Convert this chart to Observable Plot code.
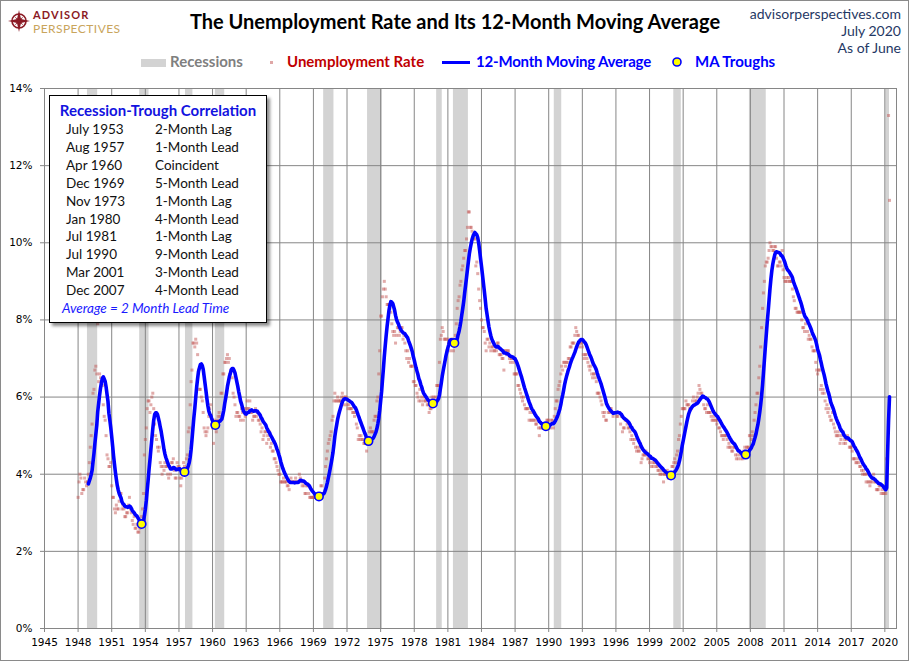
<!DOCTYPE html>
<html>
<head>
<meta charset="utf-8">
<script src="https://cdn.jsdelivr.net/npm/d3@7"></script>
<script src="https://cdn.jsdelivr.net/npm/@observablehq/plot@0.6"></script>
<style>
  body { margin: 0; background: #fff; }
  #wrap { position: relative; width: 910px; height: 661px; overflow: hidden; font-family: Lato, "Open Sans", sans-serif; background: #fff; }
  #chart { position: absolute; left: 0; top: 0; }
  #edge { position: absolute; left: 0; top: 0; width: 909px; height: 661px; box-sizing: border-box; border: 1px solid #8a8a8a; pointer-events: none; }
  .abs { position: absolute; white-space: nowrap; line-height: 1; }
  #title { left: 0; width: 910px; top: 11px; text-align: center; font-weight: 700; font-size: 20px; color: #000; }
  .site { right: 9px; text-align: right; font-size: 14px; color: #1f3864; }
  .leg { top: 54px; font-weight: 700; font-size: 15px; }
  #box { position: absolute; left: 49px; top: 95px; width: 218px; height: 228px; box-sizing: border-box; border: 1px solid #000; background: #fff; box-shadow: 3px 3px 3px rgba(0,0,0,0.45); }
  #box .abs { font-size: 13.5px; color: #111; }
  #box .boxtitle { left: 0; width: 216px; text-align: center; font-weight: 700; font-size: 15px; color: #1212e0; }
  #box .avg { font-style: italic; color: #1a1aff; }
</style>
</head>
<body>
<div id="wrap">
  <div id="chart"></div>
  <svg class="abs" style="left:7px;top:8px" width="126" height="28" viewBox="-12 -13 126 28">
    <circle r="7" fill="none" stroke="#8b1a24" stroke-width="1.6"></circle>
    <path d="M0,-11 L2,-2 L11,0 L2,2 L0,11 L-2,2 L-11,0 L-2,-2 Z" fill="#8b1a24"></path>
    <path d="M5,-5 L1,0 L5,5 L0,1 L-5,5 L-1,0 L-5,-5 L0,-1 Z" fill="#8b1a24"></path>
    <text x="14" y="-2.4" font-family="Lato, sans-serif" font-size="11" font-weight="700" fill="#8b1a24" letter-spacing="1.1">ADVISOR</text>
    <text x="14" y="11.9" font-family="Lato, sans-serif" font-size="12" fill="#c9a55c" letter-spacing="0.45">PERSPECTIVES</text>
  </svg>
  <div id="title" class="abs">The Unemployment Rate and Its 12-Month Moving Average</div>
  <div class="abs site" style="top:7px">advisorperspectives.com</div>
  <div class="abs site" style="top:24px">July 2020</div>
  <div class="abs site" style="top:41px">As of June</div>
  <div id="legend"></div>
  <div id="box"></div>
  <div id="edge"></div>
</div>
<script>
// Monthly civilian unemployment rate (%), seasonally adjusted, starting January 1948
const firstMonth = "1948-01-01";
const unemploymentRate = [
  3.4, 3.8, 4.0, 3.9, 3.5, 3.6, 3.6, 3.9, 3.8, 3.7, 3.8, 4.0,   // 1948
  4.3, 4.7, 5.0, 5.3, 6.1, 6.2, 6.7, 6.8, 6.6, 7.9, 6.4, 6.6,   // 1949
  6.5, 6.4, 6.3, 5.8, 5.5, 5.4, 5.0, 4.5, 4.4, 4.2, 4.2, 4.3,   // 1950
  3.7, 3.4, 3.4, 3.1, 3.0, 3.2, 3.1, 3.1, 3.3, 3.5, 3.5, 3.1,   // 1951
  3.2, 3.1, 2.9, 2.9, 3.0, 3.0, 3.2, 3.4, 3.1, 3.0, 2.8, 2.7,   // 1952
  2.9, 2.6, 2.6, 2.7, 2.5, 2.5, 2.6, 2.7, 2.9, 3.1, 3.5, 4.5,   // 1953
  4.9, 5.2, 5.7, 5.9, 5.9, 5.6, 5.8, 6.0, 6.1, 5.7, 5.3, 5.0,   // 1954
  4.9, 4.7, 4.6, 4.7, 4.3, 4.2, 4.0, 4.2, 4.1, 4.3, 4.2, 4.2,   // 1955
  4.0, 3.9, 4.2, 4.0, 4.3, 4.3, 4.4, 4.1, 3.9, 3.9, 4.3, 4.2,   // 1956
  4.2, 3.9, 3.7, 3.9, 4.1, 4.3, 4.2, 4.1, 4.4, 4.5, 5.1, 5.2,   // 1957
  5.8, 6.4, 6.7, 7.4, 7.4, 7.3, 7.5, 7.4, 7.1, 6.7, 6.2, 6.2,   // 1958
  6.0, 5.9, 5.6, 5.2, 5.1, 5.0, 5.1, 5.2, 5.5, 5.7, 5.8, 5.3,   // 1959
  5.2, 4.8, 5.4, 5.2, 5.1, 5.4, 5.5, 5.6, 5.5, 6.1, 6.1, 6.6,   // 1960
  6.6, 6.9, 6.9, 7.0, 7.1, 6.9, 7.0, 6.6, 6.7, 6.5, 6.1, 6.0,   // 1961
  5.8, 5.5, 5.6, 5.6, 5.5, 5.5, 5.4, 5.7, 5.6, 5.4, 5.7, 5.5,   // 1962
  5.7, 5.9, 5.7, 5.7, 5.9, 5.6, 5.6, 5.4, 5.5, 5.5, 5.7, 5.5,   // 1963
  5.6, 5.4, 5.4, 5.3, 5.1, 5.2, 4.9, 5.0, 5.1, 5.1, 4.8, 5.0,   // 1964
  4.9, 5.1, 4.7, 4.8, 4.6, 4.6, 4.4, 4.4, 4.3, 4.2, 4.1, 4.0,   // 1965
  4.0, 3.8, 3.8, 3.8, 3.9, 3.8, 3.8, 3.8, 3.7, 3.7, 3.6, 3.8,   // 1966
  3.9, 3.8, 3.8, 3.8, 3.8, 3.9, 3.8, 3.8, 3.8, 4.0, 3.9, 3.8,   // 1967
  3.7, 3.8, 3.7, 3.5, 3.5, 3.7, 3.7, 3.5, 3.4, 3.4, 3.4, 3.4,   // 1968
  3.4, 3.4, 3.4, 3.4, 3.4, 3.5, 3.5, 3.5, 3.7, 3.7, 3.5, 3.5,   // 1969
  3.9, 4.2, 4.4, 4.6, 4.8, 4.9, 5.0, 5.1, 5.4, 5.5, 5.9, 6.1,   // 1970
  5.9, 5.9, 6.0, 5.9, 5.9, 5.9, 6.0, 6.1, 6.0, 5.8, 6.0, 6.0,   // 1971
  5.8, 5.7, 5.8, 5.7, 5.7, 5.7, 5.6, 5.6, 5.5, 5.6, 5.3, 5.2,   // 1972
  4.9, 5.0, 4.9, 5.0, 4.9, 4.9, 4.8, 4.8, 4.8, 4.6, 4.8, 4.9,   // 1973
  5.1, 5.2, 5.1, 5.1, 5.1, 5.4, 5.5, 5.5, 5.9, 6.0, 6.6, 7.2,   // 1974
  8.1, 8.1, 8.6, 8.8, 9.0, 8.8, 8.6, 8.4, 8.4, 8.4, 8.3, 8.2,   // 1975
  7.9, 7.7, 7.6, 7.7, 7.4, 7.6, 7.8, 7.8, 7.6, 7.7, 7.8, 7.8,   // 1976
  7.5, 7.6, 7.4, 7.2, 7.0, 7.2, 6.9, 7.0, 6.8, 6.8, 6.8, 6.4,   // 1977
  6.4, 6.3, 6.3, 6.1, 6.0, 5.9, 6.2, 5.9, 6.0, 5.8, 5.9, 6.0,   // 1978
  5.9, 5.9, 5.8, 5.8, 5.6, 5.7, 5.7, 6.0, 5.9, 6.0, 5.9, 6.0,   // 1979
  6.3, 6.3, 6.3, 6.9, 7.5, 7.6, 7.8, 7.7, 7.5, 7.5, 7.5, 7.2,   // 1980
  7.5, 7.4, 7.4, 7.2, 7.5, 7.5, 7.2, 7.4, 7.6, 7.9, 8.3, 8.5,   // 1981
  8.6, 8.9, 9.0, 9.3, 9.4, 9.6, 9.8, 9.8, 10.1, 10.4, 10.8, 10.8, // 1982
  10.4, 10.4, 10.3, 10.2, 10.1, 10.1, 9.4, 9.5, 9.2, 8.8, 8.5, 8.3, // 1983
  8.0, 7.8, 7.8, 7.7, 7.4, 7.2, 7.5, 7.5, 7.3, 7.4, 7.2, 7.3,   // 1984
  7.3, 7.2, 7.2, 7.3, 7.2, 7.4, 7.4, 7.1, 7.1, 7.1, 7.0, 7.0,   // 1985
  6.7, 7.2, 7.2, 7.1, 7.2, 7.2, 7.0, 6.9, 7.0, 7.0, 6.9, 6.6,   // 1986
  6.6, 6.6, 6.6, 6.3, 6.3, 6.2, 6.1, 6.0, 5.9, 6.0, 5.8, 5.7,   // 1987
  5.7, 5.7, 5.7, 5.4, 5.6, 5.4, 5.4, 5.6, 5.4, 5.4, 5.3, 5.3,   // 1988
  5.4, 5.2, 5.0, 5.2, 5.2, 5.3, 5.2, 5.2, 5.3, 5.3, 5.4, 5.4,   // 1989
  5.4, 5.3, 5.2, 5.4, 5.4, 5.2, 5.5, 5.7, 5.9, 5.9, 6.2, 6.3,   // 1990
  6.4, 6.6, 6.8, 6.7, 6.9, 6.9, 6.8, 6.9, 6.9, 7.0, 7.0, 7.3,   // 1991
  7.3, 7.4, 7.4, 7.4, 7.6, 7.8, 7.7, 7.6, 7.6, 7.3, 7.4, 7.4,   // 1992
  7.3, 7.1, 7.0, 7.1, 7.1, 7.0, 6.9, 6.8, 6.7, 6.8, 6.6, 6.5,   // 1993
  6.6, 6.6, 6.5, 6.4, 6.1, 6.1, 6.1, 6.0, 5.9, 5.8, 5.6, 5.5,   // 1994
  5.6, 5.4, 5.4, 5.8, 5.6, 5.6, 5.7, 5.7, 5.6, 5.5, 5.6, 5.6,   // 1995
  5.6, 5.5, 5.5, 5.6, 5.6, 5.3, 5.5, 5.1, 5.2, 5.2, 5.4, 5.4,   // 1996
  5.3, 5.2, 5.2, 5.1, 4.9, 5.0, 4.9, 4.8, 4.9, 4.7, 4.6, 4.7,   // 1997
  4.6, 4.6, 4.7, 4.3, 4.4, 4.5, 4.5, 4.5, 4.6, 4.5, 4.4, 4.4,   // 1998
  4.3, 4.4, 4.2, 4.3, 4.2, 4.3, 4.3, 4.2, 4.2, 4.1, 4.1, 4.0,   // 1999
  4.0, 4.1, 4.0, 3.8, 4.0, 4.0, 4.0, 4.1, 3.9, 3.9, 3.9, 3.9,   // 2000
  4.2, 4.2, 4.3, 4.4, 4.3, 4.5, 4.6, 4.9, 5.0, 5.3, 5.5, 5.7,   // 2001
  5.7, 5.7, 5.7, 5.9, 5.8, 5.8, 5.8, 5.7, 5.7, 5.7, 5.9, 6.0,   // 2002
  5.8, 5.9, 5.9, 6.0, 6.1, 6.3, 6.2, 6.1, 6.1, 6.0, 5.8, 5.7,   // 2003
  5.7, 5.6, 5.8, 5.6, 5.6, 5.6, 5.5, 5.4, 5.4, 5.5, 5.4, 5.4,   // 2004
  5.3, 5.4, 5.2, 5.2, 5.1, 5.0, 5.0, 4.9, 5.0, 5.0, 5.0, 4.9,   // 2005
  4.7, 4.8, 4.7, 4.7, 4.6, 4.6, 4.7, 4.7, 4.5, 4.4, 4.5, 4.4,   // 2006
  4.6, 4.5, 4.4, 4.5, 4.4, 4.6, 4.7, 4.6, 4.7, 4.7, 4.7, 5.0,   // 2007
  5.0, 4.9, 5.1, 5.0, 5.4, 5.6, 5.8, 6.1, 6.1, 6.5, 6.8, 7.3,   // 2008
  7.8, 8.3, 8.7, 9.0, 9.4, 9.5, 9.5, 9.6, 9.8, 10.0, 9.9, 9.9,  // 2009
  9.8, 9.8, 9.9, 9.9, 9.6, 9.4, 9.4, 9.5, 9.5, 9.4, 9.8, 9.3,   // 2010
  9.1, 9.0, 9.0, 9.1, 9.0, 9.1, 9.0, 9.0, 9.0, 8.8, 8.6, 8.5,   // 2011
  8.3, 8.3, 8.2, 8.2, 8.2, 8.2, 8.2, 8.0, 7.8, 7.8, 7.7, 7.9,   // 2012
  8.0, 7.7, 7.5, 7.6, 7.5, 7.5, 7.3, 7.2, 7.2, 7.2, 6.9, 6.7,   // 2013
  6.6, 6.7, 6.7, 6.2, 6.3, 6.1, 6.2, 6.1, 5.9, 5.7, 5.8, 5.6,   // 2014
  5.7, 5.5, 5.4, 5.4, 5.6, 5.3, 5.2, 5.1, 5.0, 5.0, 5.1, 5.0,   // 2015
  4.8, 4.9, 5.0, 5.1, 4.8, 4.9, 4.8, 4.9, 5.0, 4.9, 4.7, 4.7,   // 2016
  4.7, 4.6, 4.4, 4.4, 4.4, 4.3, 4.3, 4.4, 4.3, 4.2, 4.2, 4.1,   // 2017
  4.0, 4.1, 4.0, 4.0, 3.8, 4.0, 3.8, 3.8, 3.7, 3.8, 3.8, 3.9,   // 2018
  4.0, 3.8, 3.8, 3.6, 3.6, 3.6, 3.7, 3.7, 3.5, 3.6, 3.5, 3.5,   // 2019
  3.6, 3.5, 4.4, 14.7, 13.3, 11.1                               // 2020
];

// NBER recessions (peak month to trough month)
const recessionStart = ["1948-11", "1953-07", "1957-08", "1960-04", "1969-12", "1973-11", "1980-01", "1981-07", "1990-07", "2001-03", "2007-12", "2020-02"];
const recessionEnd   = ["1949-10", "1954-05", "1958-04", "1961-02", "1970-11", "1975-03", "1980-07", "1982-11", "1991-03", "2001-11", "2009-06", "2020-06"];

// Months where the 12-month moving average bottoms out
const troughMonths = ["1953-09", "1957-07", "1960-04", "1969-07", "1973-12", "1979-09", "1981-08", "1989-10", "2000-12", "2007-08"];

// Inset table
const correlationRecession = ["July 1953", "Aug 1957", "Apr 1960", "Dec 1969", "Nov 1973", "Jan 1980", "Jul 1981", "Jul 1990", "Mar 2001", "Dec 2007"];
const correlationTiming = ["2-Month Lag", "1-Month Lead", "Coincident", "5-Month Lead", "1-Month Lag", "4-Month Lead", "1-Month Lag", "9-Month Lead", "3-Month Lead", "4-Month Lead"];
const correlationNote = "Average = 2 Month Lead Time";

// Axis ticks
const xTickYears = [1945, 1948, 1951, 1954, 1957, 1960, 1963, 1966, 1969, 1972, 1975, 1978, 1981, 1984, 1987, 1990, 1993, 1996, 1999, 2002, 2005, 2008, 2011, 2014, 2017, 2020];
const yTicks = [0, 2, 4, 6, 8, 10, 12, 14];

// ---- build tables ----
const parseMonth = d3.utcParse("%Y-%m");
const start = new Date(firstMonth + "T00:00:00Z");
const monthly = unemploymentRate.map((v, i) => ({date: d3.utcMonth.offset(start, i), rate: v}));

// trailing 12-month moving average
const movingAvg = [];
for (let i = 11; i < monthly.length; i++) {
  movingAvg.push({date: monthly[i].date, ma: d3.mean(monthly.slice(i - 11, i + 1), d => d.rate)});
}
const maByMonth = new Map(movingAvg.map(d => [+d.date, d.ma]));
const troughs = troughMonths.map(m => { const dt = parseMonth(m); return {date: dt, ma: maByMonth.get(+dt)}; });

const recessions = recessionStart.map((s, i) => ({start: parseMonth(s), end: parseMonth(recessionEnd[i])}));
const xTicks = xTickYears.map(y => new Date(Date.UTC(y, 0, 1)));

const grid = "#868686";

const chart = Plot.plot({
  width: 910,
  height: 661,
  marginLeft: 44,
  marginRight: 14,
  marginTop: 88,
  marginBottom: 33,
  style: {fontFamily: "'DejaVu Sans', sans-serif", fontSize: "10.5px", color: "#000", background: "transparent"},
  x: {type: "utc", domain: [new Date(Date.UTC(1945, 0, 1)), new Date(Date.UTC(2021, 0, 15))]},
  y: {domain: [0, 14]},
  marks: [
    Plot.rect(recessions, {x1: "start", x2: "end", y1: 0, y2: 14, fill: "#d3d3d3"}),
    Plot.gridX(xTicks, {stroke: grid, strokeOpacity: 1}),
    Plot.gridY(yTicks, {stroke: grid, strokeOpacity: 1}),
    Plot.frame({stroke: grid}),
    Plot.axisX(xTicks, {tickFormat: d3.utcFormat("%Y"), tickSize: 4, tickPadding: 6, stroke: grid, label: null}),
    Plot.axisY(yTicks, {tickFormat: d => d + "%", tickSize: 4, tickPadding: 8, stroke: grid, label: null}),
    Plot.dot(monthly, {x: "date", y: "rate", symbol: "square", r: 1.7, fill: "#c0504d", fillOpacity: 0.48, stroke: null, clip: true}),
    Plot.line(movingAvg, {x: "date", y: "ma", stroke: "#0000ff", strokeWidth: 3.6, strokeLinejoin: "round"}),
    Plot.dot(troughs, {x: "date", y: "ma", r: 4.2, fill: "#ffff00", stroke: "#0000ff", strokeWidth: 1.6})
  ]
});
document.getElementById("chart").appendChild(chart);

// ---- legend ----
const legend = document.getElementById("legend");
legend.innerHTML = `
  <div class="abs" style="left:141px;top:59px;width:25px;height:8px;background:#d3d3d3"></div>
  <div class="abs leg" style="left:170px;color:#7f7f7f">Recessions</div>
  <div class="abs" style="left:270px;top:61px;width:3px;height:3px;background:#c0504d;opacity:0.5"></div>
  <div class="abs leg" style="left:287px;color:#c00000">Unemployment Rate</div>
  <div class="abs" style="left:442px;top:61px;width:28px;height:3px;background:#0000ff"></div>
  <div class="abs leg" style="left:476px;color:#0000ff;letter-spacing:-0.2px">12-Month Moving Average</div>
  <svg class="abs" style="left:671px;top:56px" width="12" height="12"><circle cx="6" cy="6" r="4" fill="#ffff00" stroke="#0000ff" stroke-width="1.6"/></svg>
  <div class="abs leg" style="left:695px;color:#0000ff">MA Troughs</div>
`;

// ---- inset table ----
const box = document.getElementById("box");
let html = `<div class="abs boxtitle" style="top:7px">Recession-Trough Correlation</div>`;
correlationRecession.forEach((r, i) => {
  const top = 27 + i * 17.9;
  html += `<div class="abs" style="left:16px;top:${top}px">${r}</div>`;
  html += `<div class="abs" style="left:105px;top:${top}px">${correlationTiming[i]}</div>`;
});
html += `<div class="abs avg" style="left:12px;top:${27 + 10 * 17.9}px">${correlationNote}</div>`;
box.innerHTML = html;
</script>
</body>
</html>
